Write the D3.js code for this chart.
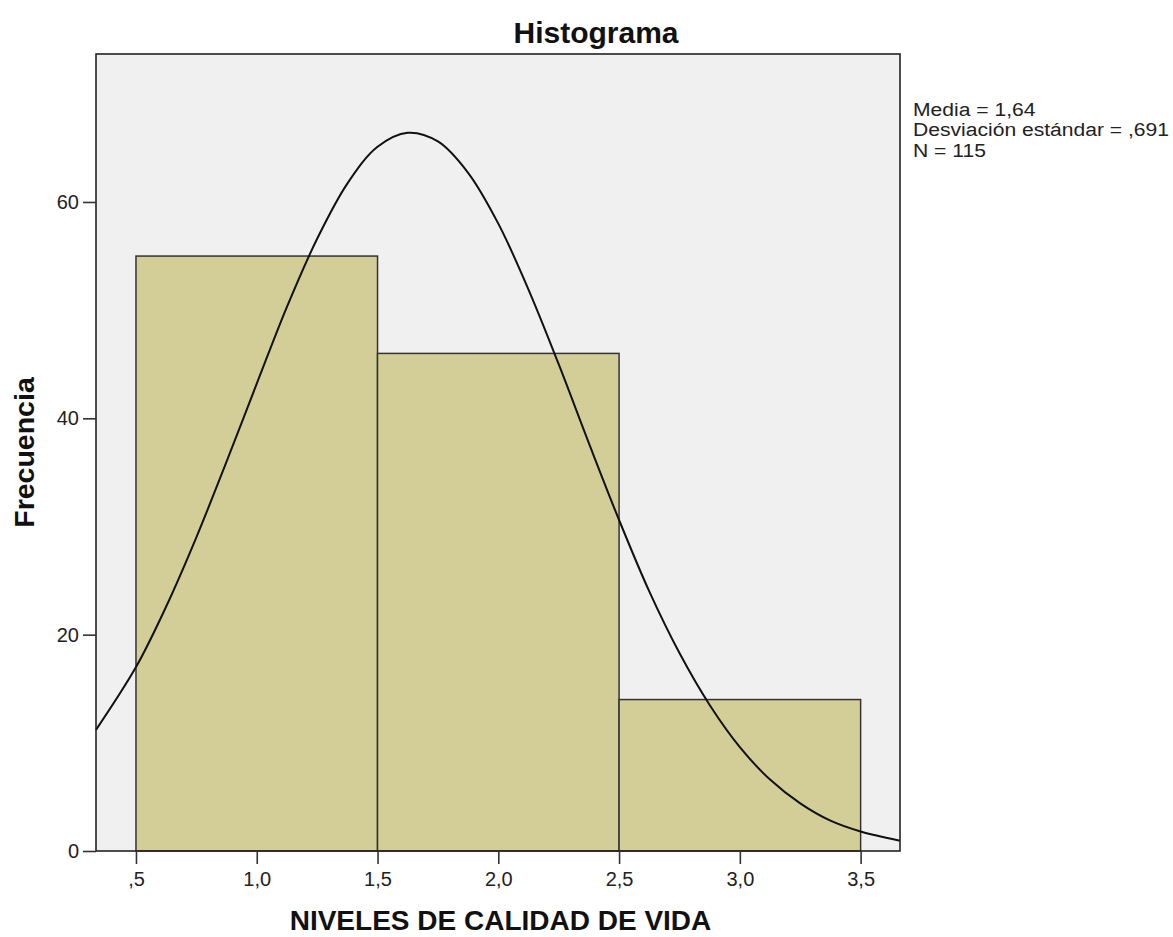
<!DOCTYPE html>
<html><head><meta charset="utf-8">
<script src="https://cdn.jsdelivr.net/npm/d3@7"></script>
<style>body{margin:0;background:#fff}svg{display:block}text{font-family:"Liberation Sans",Arial,sans-serif}</style>
</head><body><svg id="c" width="1173" height="937"></svg>
<script>
const binStarts = [0.5, 1.5, 2.5];
const binEnds = [1.5, 2.5, 3.5];
const frequencies = [55, 46, 14];
const curveX = [0.3345, 0.5, 0.625, 0.75, 0.875, 1.0, 1.125, 1.25, 1.375, 1.5, 1.625, 1.75, 1.875, 2.0, 2.125, 2.25, 2.375, 2.5, 2.625, 2.75, 2.875, 3.0, 3.125, 3.25, 3.375, 3.5, 3.663];
const curveY = [11.2, 17.0, 22.6, 29.0, 36.0, 43.2, 50.3, 56.6, 61.7, 65.1, 66.4, 65.6, 62.7, 58.0, 51.9, 45.0, 37.7, 30.6, 24.0, 18.3, 13.5, 9.6, 6.6, 4.4, 2.8, 1.8, 0.95];
const xTicks = [0.5, 1.0, 1.5, 2.0, 2.5, 3.0, 3.5];
const xTickLabels = [",5", "1,0", "1,5", "2,0", "2,5", "3,0", "3,5"];
const yTicks = [0, 20, 40, 60];
const statsLines = ["Media = 1,64", "Desviación estándar = ,691", "N = 115"];

const svg = d3.select("#c");
const L = 96, R = 900, T = 54, B = 851;
const x = d3.scaleLinear().domain([0.3345, 3.663]).range([L, R]);
const y = d3.scaleLinear().domain([0, 73.68]).range([B, T]);
const FONT = "Liberation Sans, Arial, sans-serif";

svg.append("rect").attr("x", L).attr("y", T).attr("width", R - L).attr("height", B - T).attr("fill", "#f0f0f0");

svg.selectAll("rect.bar").data(frequencies).join("rect").attr("class", "bar")
  .attr("x", (d, i) => x(binStarts[i])).attr("width", (d, i) => x(binEnds[i]) - x(binStarts[i]))
  .attr("y", d => y(d)).attr("height", d => y(0) - y(d))
  .attr("fill", "#d3ce98").attr("stroke", "#333").attr("stroke-width", 1.5);

const pts = curveX.map((v, i) => [v, curveY[i]]);
svg.append("path").datum(pts)
  .attr("d", d3.line().x(d => x(d[0])).y(d => y(d[1])).curve(d3.curveCatmullRom))
  .attr("fill", "none").attr("stroke", "#111").attr("stroke-width", 2);

svg.append("rect").attr("x", L).attr("y", T).attr("width", R - L).attr("height", B - T)
  .attr("fill", "none").attr("stroke", "#222").attr("stroke-width", 1.6);

const xAxis = svg.append("g").attr("transform", `translate(0,${B})`)
  .call(d3.axisBottom(x).tickValues(xTicks).tickFormat((d, i) => xTickLabels[i]).tickSize(13).tickSizeOuter(0).tickPadding(8));
xAxis.select(".domain").remove();
xAxis.selectAll("line").attr("stroke", "#333").attr("stroke-width", 1.6);
xAxis.selectAll("text").attr("font-size", 20).attr("fill", "#222").style("font-family", FONT);

const yAxis = svg.append("g").attr("transform", `translate(${L},0)`)
  .call(d3.axisLeft(y).tickValues(yTicks).tickFormat(d3.format("d")).tickSize(13).tickSizeOuter(0).tickPadding(4));
yAxis.select(".domain").remove();
yAxis.selectAll("line").attr("stroke", "#333").attr("stroke-width", 1.6);
yAxis.selectAll("text").attr("font-size", 20).attr("fill", "#222").style("font-family", FONT);

svg.append("text").attr("x", 596).attr("y", 43).attr("text-anchor", "middle")
  .attr("font-size", 30).attr("font-weight", "bold").attr("fill", "#111").text("Histograma");
svg.append("text").attr("x", 500.5).attr("y", 930).attr("text-anchor", "middle")
  .attr("font-size", 28).attr("font-weight", "bold").attr("fill", "#111").text("NIVELES DE CALIDAD DE VIDA");
svg.append("text").attr("transform", `translate(33.5,452.5) rotate(-90)`).attr("text-anchor", "middle")
  .attr("font-size", 28.5).attr("font-weight", "bold").attr("fill", "#111").text("Frecuencia");

svg.append("g").attr("transform", "translate(913,0) scale(1.11,1)")
  .selectAll("text").data(statsLines).join("text")
  .attr("x", 0).attr("y", (d, i) => 116 + i * 20.3)
  .attr("font-size", 19).attr("fill", "#222").text(d => d);
</script></body></html>
